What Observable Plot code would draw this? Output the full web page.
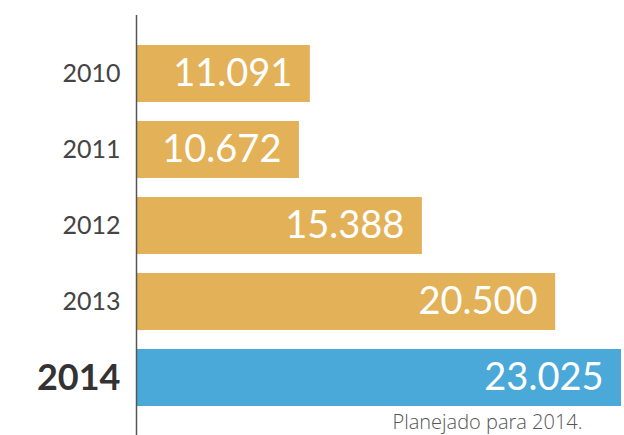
<!DOCTYPE html>
<html>
<head>
<meta charset="utf-8">
<script src="https://cdn.jsdelivr.net/npm/d3@7"></script>
<script src="https://cdn.jsdelivr.net/npm/@observablehq/plot@0.6"></script>
<style>
  html, body { margin: 0; padding: 0; background: #fff; }
  #chart svg { display: block; }
</style>
</head>
<body>
<div id="chart"></div>
<script>
const years = ["2010", "2011", "2012", "2013", "2014"];
const values = [11091, 10672, 15388, 20500, 23025];
const highlight = ["2014"];
const caption = "Planejado para 2014.";

const base = 4423;
const data = years.map((y, i) => ({year: y, value: values[i], hi: highlight.includes(y)}));
const fmt = d3.formatLocale({decimal: ",", thousands: ".", grouping: [3], currency: ["R$", ""]}).format(",d");

const plot = Plot.plot({
  width: 624,
  height: 435,
  marginLeft: 136,
  marginRight: 3,
  marginTop: 15,
  marginBottom: 0,
  style: {background: "#fff"},
  x: {domain: [base, 23025], axis: null},
  y: {domain: years, range: [35.5, 415.5], paddingInner: 0.25, paddingOuter: 0.125, align: 0.5, axis: null},
  marks: [
    Plot.barX(data, {
      y: "year", x1: base, x2: "value",
      fill: d => d.hi ? "#4BA9D9" : "#E3B158"
    }),
    Plot.ruleX([base], {stroke: "#555", strokeWidth: 1.5}),
    Plot.text(data, {
      y: "year", x: "value", text: d => fmt(d.value),
      textAnchor: "end", dx: -18, fill: "#fff",
      fontSize: 38, fontFamily: "Lato, 'Open Sans', sans-serif"
    }),
    Plot.text(data.filter(d => !d.hi), {
      y: "year", x: base, text: "year",
      textAnchor: "end", dx: -16, fill: "#444",
      fontSize: 25, fontFamily: "Lato, 'Open Sans', sans-serif"
    }),
    Plot.text(data.filter(d => d.hi), {
      y: "year", x: base, text: "year",
      textAnchor: "end", dx: -16, fill: "#333",
      fontSize: 36, fontWeight: "bold", fontFamily: "Lato, 'Open Sans', sans-serif"
    }),
    Plot.text([caption], {
      frameAnchor: "bottom-right", text: d => d, dx: -39, dy: -7,
      lineAnchor: "bottom", fill: "#555", fontWeight: 300,
      fontSize: 20, fontFamily: "'Open Sans', Lato, sans-serif"
    })
  ]
});
document.getElementById("chart").appendChild(plot);
</script>
</body>
</html>
